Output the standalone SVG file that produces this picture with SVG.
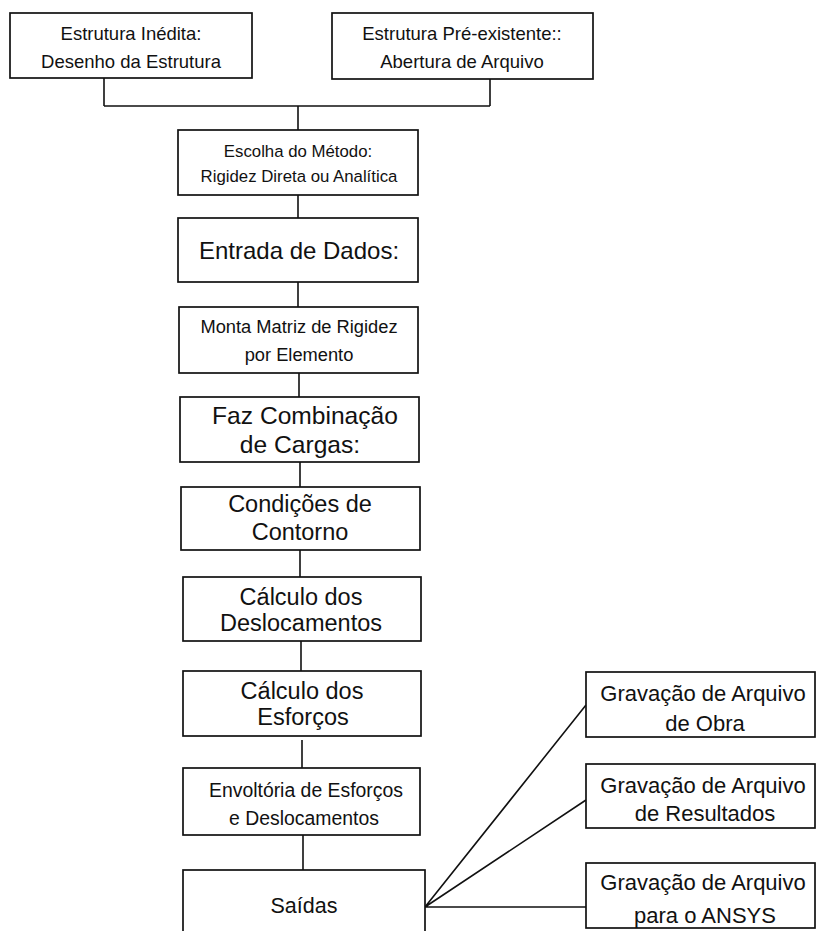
<svg xmlns="http://www.w3.org/2000/svg" width="817" height="931" viewBox="0 0 817 931">
<style>
.box{fill:#fff;stroke:#111;stroke-width:1.7}
.c{fill:none;stroke:#111;stroke-width:1.6}
text{font-family:"Liberation Sans",Arial,sans-serif;fill:#111;text-anchor:middle}
.t19{font-size:18.5px}
.t17{font-size:16.8px}
.t24{font-size:24px}
.t25{font-size:24.6px}
.t18{font-size:18.3px}
.t23{font-size:23.5px}
.t20{font-size:19.4px}
.t22{font-size:21.5px}
.t22b{font-size:22px}
</style>
<rect width="817" height="931" fill="#fff"/>
<g id="connectors">
<path class="c" d="M104,78V106M490,79V106M104,106H490M298,106V130"/>
<path class="c" d="M298,195V218M298,282V307M299,373V397M300,462V487M300,550V577M301,641V671M302,740V768M303,835V870"/>
<path class="c" d="M425,907L586,705M425,907L586,800M425,907H586"/>
</g>
<g id="n1"><rect class="box" x="10" y="13" width="242" height="65"/>
<text class="t19" x="131" y="40">Estrutura Inédita:</text>
<text class="t19" x="131" y="68">Desenho da Estrutura</text></g>
<g id="n2"><rect class="box" x="332" y="13" width="261" height="66"/>
<text class="t19" x="462" y="40">Estrutura Pré-existente::</text>
<text class="t19" x="462" y="68">Abertura de Arquivo</text></g>
<g id="n3"><rect class="box" x="178" y="130" width="240" height="65"/>
<text class="t17" x="298" y="157">Escolha do Método:</text>
<text class="t17" x="299" y="182">Rigidez Direta ou Analítica</text></g>
<g id="n4"><rect class="box" x="178" y="218" width="240" height="64"/>
<text class="t24" x="299" y="259">Entrada de Dados:</text></g>
<g id="n5"><rect class="box" x="179" y="307" width="239" height="66"/>
<text class="t18" x="299" y="333">Monta Matriz de Rigidez</text>
<text class="t18" x="299" y="361" fill="#1a1f3a">por Elemento</text></g>
<g id="n6"><rect class="box" x="180" y="397" width="239" height="65"/>
<text class="t25" x="305" y="424">Faz Combinação</text>
<text class="t25" x="300" y="453">de Cargas:</text></g>
<g id="n7"><rect class="box" x="181" y="487" width="239" height="63"/>
<text class="t23" x="300" y="512">Condições de</text>
<text class="t23" x="300" y="540">Contorno</text></g>
<g id="n8"><rect class="box" x="183" y="577" width="238" height="64"/>
<text class="t23" x="301" y="605">Cálculo dos</text>
<text class="t23" x="301" y="631">Deslocamentos</text></g>
<g id="n9"><rect class="box" x="183" y="671" width="238" height="65"/>
<text class="t23" x="302" y="699">Cálculo dos</text>
<text class="t23" x="303" y="725">Esforços</text></g>
<g id="n10"><rect class="box" x="183" y="768" width="237" height="67"/>
<text class="t20" x="306" y="797">Envoltória de Esforços</text>
<text class="t20" x="304" y="825">e Deslocamentos</text></g>
<g id="n11"><rect class="box" x="183" y="870" width="242" height="64"/>
<text class="t22" x="304" y="913">Saídas</text></g>
<g id="n12"><rect class="box" x="586" y="672" width="229" height="65"/>
<text class="t22b" x="703" y="701">Gravação de Arquivo</text>
<text class="t22b" x="705" y="731">de Obra</text></g>
<g id="n13"><rect class="box" x="586" y="764" width="229" height="64"/>
<text class="t22b" x="703" y="793">Gravação de Arquivo</text>
<text class="t22b" x="705" y="821">de Resultados</text></g>
<g id="n14"><rect class="box" x="586" y="863" width="229" height="65"/>
<text class="t22b" x="703" y="890">Gravação de Arquivo</text>
<text class="t22b" x="705" y="923">para o ANSYS</text></g>
</svg>
